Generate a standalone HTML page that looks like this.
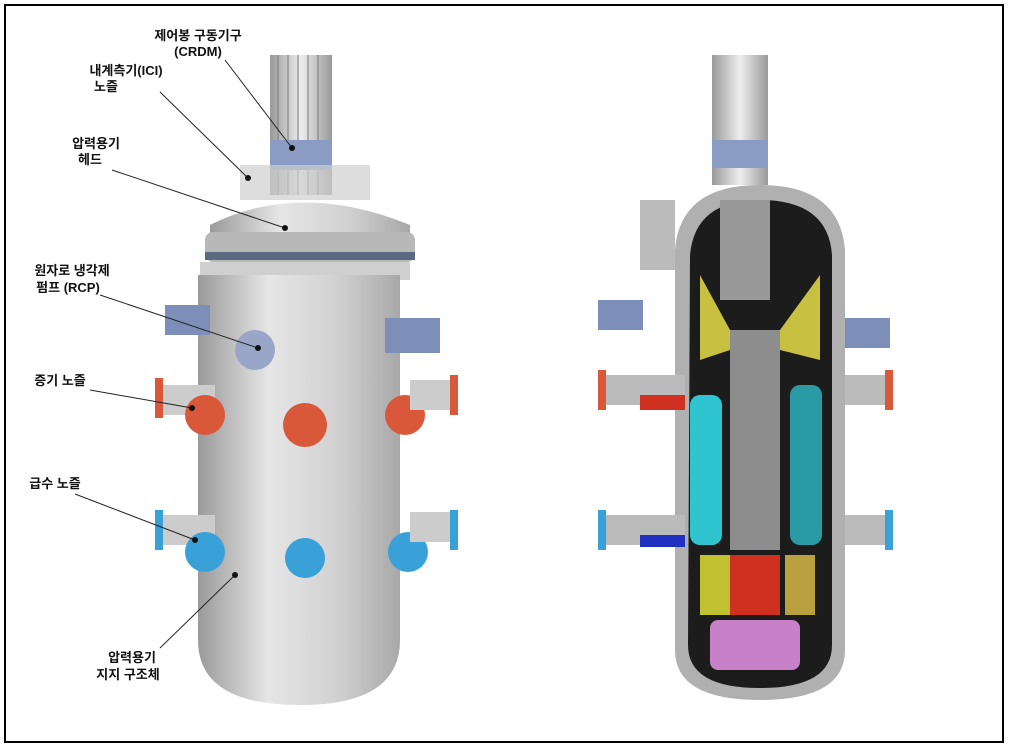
<!DOCTYPE html>
<html><head><meta charset="utf-8"><style>
html,body{margin:0;padding:0;background:#fff}
body{width:1010px;height:747px;overflow:hidden;font-family:"Liberation Sans","Noto Sans CJK KR",sans-serif}
</style></head><body>
<svg width="1010" height="747" viewBox="0 0 1010 747" xmlns="http://www.w3.org/2000/svg">
<defs>
<linearGradient id="g" x1="0" x2="1"><stop offset="0" stop-color="#9a9a9a"/><stop offset=".35" stop-color="#e6e6e6"/><stop offset=".7" stop-color="#d0d0d0"/><stop offset="1" stop-color="#a8a8a8"/></linearGradient>
<linearGradient id="rod" x1="0" x2="1"><stop offset="0" stop-color="#999"/><stop offset=".5" stop-color="#eee"/><stop offset="1" stop-color="#999"/></linearGradient>
</defs>
<rect x="5" y="5" width="998" height="737" fill="#fff" stroke="#000" stroke-width="2"/>

<!-- LEFT VESSEL -->
<g>
<rect x="270" y="55" width="62" height="140" fill="url(#rod)"/>
<g stroke="#777" stroke-width="1"><line x1="278" y1="55" x2="278" y2="195"/><line x1="288" y1="55" x2="288" y2="195"/><line x1="298" y1="55" x2="298" y2="195"/><line x1="308" y1="55" x2="308" y2="195"/><line x1="318" y1="55" x2="318" y2="195"/></g>
<rect x="270" y="140" width="62" height="30" fill="#8a9bc4"/>
<rect x="240" y="165" width="130" height="35" fill="#cfcfcf" opacity=".7"/>
<path d="M210 225 Q300 180 410 225 L410 250 L210 250Z" fill="url(#g)"/>
<rect x="205" y="232" width="210" height="30" rx="8" fill="#b8b8b8"/>
<rect x="205" y="252" width="210" height="8" fill="#5b6a80"/>
<rect x="200" y="262" width="210" height="18" fill="#cfcfcf"/>
<path d="M198 275 L400 275 L400 640 Q400 705 300 705 Q198 705 198 640Z" fill="url(#g)"/>
<rect x="155" y="385" width="60" height="30" fill="#ccc"/>
<rect x="155" y="378" width="8" height="40" fill="#d9583a"/>
<circle cx="205" cy="415" r="20" fill="#d9583a"/>
<circle cx="305" cy="425" r="22" fill="#d9583a"/>
<circle cx="405" cy="415" r="20" fill="#d9583a"/>
<rect x="410" y="380" width="45" height="30" fill="#ccc"/>
<rect x="450" y="375" width="8" height="40" fill="#d9583a"/>
<rect x="155" y="515" width="60" height="30" fill="#ccc"/>
<rect x="155" y="510" width="8" height="40" fill="#3aa0d8"/>
<circle cx="205" cy="552" r="20" fill="#3aa0d8"/>
<circle cx="305" cy="558" r="20" fill="#3aa0d8"/>
<circle cx="408" cy="552" r="20" fill="#3aa0d8"/>
<rect x="410" y="512" width="45" height="30" fill="#ccc"/>
<rect x="450" y="510" width="8" height="40" fill="#3aa0d8"/>
<rect x="165" y="305" width="45" height="30" fill="#7d8fb8"/>
<circle cx="255" cy="350" r="20" fill="#9aa6c8"/>
<rect x="385" y="318" width="55" height="35" fill="#7d8fb8"/>
</g>

<!-- RIGHT VESSEL -->
<g>
<rect x="712" y="55" width="56" height="130" fill="url(#rod)"/>
<rect x="712" y="140" width="56" height="28" fill="#8a9bc4"/>
<rect x="640" y="200" width="35" height="70" fill="#bbb"/>
<path d="M675 250 Q680 185 760 185 Q840 185 845 250 L845 650 Q845 700 760 700 Q675 700 675 650Z" fill="#b0b0b0"/>
<path d="M690 255 Q695 200 760 200 Q828 200 832 255 L832 645 Q832 688 760 688 Q688 688 688 645Z" fill="#1c1c1c"/>
<rect x="720" y="200" width="50" height="100" fill="#999"/>
<rect x="730" y="330" width="50" height="220" fill="#8d8d8d"/>
<path d="M700 275 L730 330 L730 350 L700 360Z" fill="#c8c040"/>
<path d="M820 275 L780 330 L780 350 L820 360Z" fill="#c8c040"/>
<rect x="690" y="395" width="32" height="150" rx="10" fill="#2ec4d0"/>
<rect x="790" y="385" width="32" height="160" rx="10" fill="#2a9aa5"/>
<rect x="700" y="555" width="30" height="60" fill="#c0c030"/>
<rect x="730" y="555" width="50" height="60" fill="#d03020"/>
<rect x="785" y="555" width="30" height="60" fill="#bba040"/>
<rect x="710" y="620" width="90" height="50" rx="8" fill="#c880c8"/>
<rect x="600" y="375" width="85" height="30" fill="#bbb"/>
<rect x="598" y="370" width="8" height="40" fill="#d9583a"/>
<rect x="640" y="395" width="45" height="15" fill="#d03020"/>
<rect x="600" y="515" width="85" height="30" fill="#bbb"/>
<rect x="598" y="510" width="8" height="40" fill="#3aa0d8"/>
<rect x="640" y="535" width="45" height="12" fill="#2030c0"/>
<rect x="845" y="375" width="45" height="30" fill="#bbb"/>
<rect x="885" y="370" width="8" height="40" fill="#d9583a"/>
<rect x="845" y="515" width="45" height="30" fill="#bbb"/>
<rect x="885" y="510" width="8" height="40" fill="#3aa0d8"/>
<rect x="845" y="318" width="45" height="30" fill="#7d8fb8"/>
<rect x="598" y="300" width="45" height="30" fill="#7d8fb8"/>
</g>

<!-- LABELS -->
<g font-size="13" font-weight="bold" fill="#111" text-anchor="middle">
<text x="198" y="40">제어봉 구동기구</text><text x="198" y="56">(CRDM)</text>
<text x="126" y="75">내계측기(ICI)</text><text x="106" y="91">노즐</text>
<text x="96" y="148">압력용기</text><text x="90" y="164">헤드</text>
<text x="72" y="275">원자로 냉각제</text><text x="68" y="292">펌프 (RCP)</text>
<text x="60" y="385">증기 노즐</text>
<text x="55" y="488">급수 노즐</text>
<text x="132" y="662">압력용기</text><text x="128" y="679">지지 구조체</text>
</g>
<g stroke="#222" stroke-width="1" fill="none">
<line x1="225" y1="60" x2="292" y2="148"/>
<line x1="160" y1="92" x2="248" y2="178"/>
<line x1="112" y1="170" x2="285" y2="228"/>
<line x1="100" y1="295" x2="258" y2="348"/>
<line x1="90" y1="390" x2="192" y2="408"/>
<line x1="75" y1="494" x2="195" y2="540"/>
<line x1="160" y1="648" x2="235" y2="575"/>
</g>
<g fill="#111"><circle cx="292" cy="148" r="3"/><circle cx="248" cy="178" r="3"/><circle cx="285" cy="228" r="3"/><circle cx="258" cy="348" r="3"/><circle cx="192" cy="408" r="3"/><circle cx="195" cy="540" r="3"/><circle cx="235" cy="575" r="3"/></g>
</svg>
</body></html>
